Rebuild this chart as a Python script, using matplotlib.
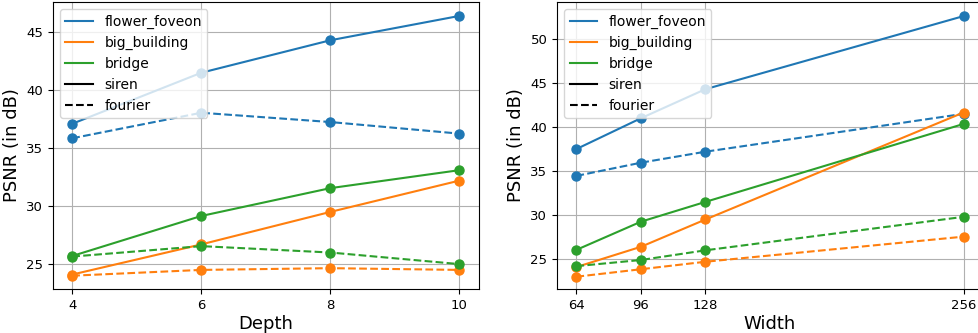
import matplotlib
matplotlib.use("Agg")
import matplotlib.pyplot as plt
from matplotlib.lines import Line2D

depth = [4, 6, 8, 10]
width = [64, 96, 128, 256]
images = ["flower_foveon", "big_building", "bridge"]
colors = ["tab:blue", "tab:orange", "tab:green"]

# PSNR vs depth
depth_siren = [
    [37.1, 41.5, 44.3, 46.4],
    [24.1, 26.7, 29.5, 32.2],
    [25.7, 29.15, 31.55, 33.1],
]
depth_fourier = [
    [35.85, 38.05, 37.25, 36.25],
    [24.0, 24.5, 24.65, 24.5],
    [25.65, 26.55, 26.0, 25.0],
]

# PSNR vs width
width_siren = [
    [37.5, 41.0, 44.3, 52.6],
    [24.1, 26.4, 29.5, 41.65],
    [26.05, 29.25, 31.5, 40.35],
]
width_fourier = [
    [34.45, 35.95, 37.2, 41.5],
    [23.0, 23.85, 24.7, 27.55],
    [24.2, 24.9, 26.0, 29.8],
]

fig = plt.figure(figsize=(9.79, 3.33), dpi=100)
ax1 = fig.add_axes([0.054, 0.132, 0.435, 0.862])
ax2 = fig.add_axes([0.569, 0.132, 0.435, 0.862])


def dibujar(ax, xs, siren, fourier, xlabel):
    for i in range(len(images)):
        ax.plot(xs, siren[i], "-o", color=colors[i], markersize=6.5, lw=1.5)
        ax.plot(xs, fourier[i], "--o", color=colors[i], markersize=6.5, lw=1.5)
    ax.set_xticks(xs)
    ax.grid(True)
    ax.set_xlabel(xlabel, fontsize=13, labelpad=2)
    ax.set_ylabel("PSNR (in dB)", fontsize=13, labelpad=4)
    ax.tick_params(labelsize=9.5)
    handles = [Line2D([0], [0], color=c, lw=1.5) for c in colors]
    handles += [Line2D([0], [0], color="black", lw=1.5),
                Line2D([0], [0], color="black", lw=1.5, ls="--")]
    ax.legend(handles, images + ["siren", "fourier"], loc="upper left",
              fontsize=10, labelspacing=0.5)


dibujar(ax1, depth, depth_siren, depth_fourier, "Depth")
dibujar(ax2, width, width_siren, width_fourier, "Width")
ax1.set_ylim(22.85, 47.6)
ax2.set_ylim(21.6, 54.2)

fig.savefig("out.png", dpi=100)
